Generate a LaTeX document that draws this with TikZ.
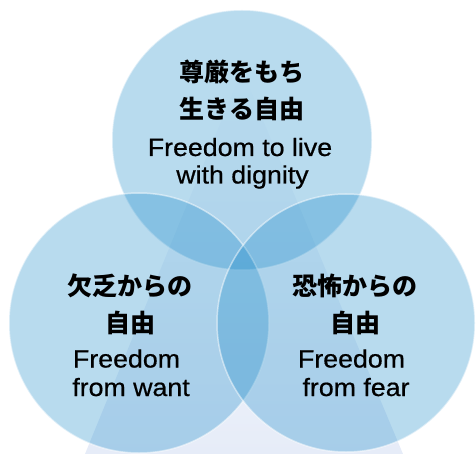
\documentclass[tikz,border=0pt]{standalone}
\usepackage{fontspec}
\usepackage{tikz}
\newfontfamily\jpfont{Noto Sans CJK JP}
\newfontfamily\enfont{Liberation Sans}[FakeStretch=1.07,FakeBold=0.6]
\definecolor{vennblue}{RGB}{20,135,200}
\definecolor{venntri}{RGB}{230,236,248}
\tikzset{
  freedom circle/.style={circle, inner sep=0pt, minimum size=#1,
    fill=vennblue, fill opacity=0.3, draw=white, draw opacity=0.5, line width=1.5pt},
  jp line/.style={anchor=base, inner sep=0pt, font=\jpfont\bfseries\fontsize{25}{25}\selectfont},
  en line/.style={anchor=base, inner sep=0pt, font=\enfont\fontsize{25}{25}\selectfont},
}

\begin{document}
\begin{tikzpicture}[x=1pt,y=-1pt]
            \useasboundingbox (0,0) rectangle (476,454);

            % Background
            \shade[top color=white, bottom color=venntri] (242,70) -- (403,454) -- (85,454) -- cycle;

            % Circles
            \node[freedom circle=260pt] (dignity) at (242,140) {};
            \node[freedom circle=260pt] (want)    at (139,323) {};
            \node[freedom circle=258pt] (fear)    at (346,323) {};

            % Top
            \node[jp line] (dig1) at (242,82)    {尊厳をもち};
            \node[jp line] (dig2) at (242,119)   {生きる自由};
            \node[en line] (dig3) at (240,156)   {Freedom to live};
            \node[en line] (dig4) at (242.5,183.5) {with dignity};

            % Left
            \node[jp line] (want1) at (130,295)   {欠乏からの};
            \node[jp line] (want2) at (130,332)   {自由};
            \node[en line] (want3) at (126.5,367.5) {Freedom};
            \node[en line] (want4) at (131,396)   {from want};

            % Right
            \node[jp line] (fear1) at (355,295)   {恐怖からの};
            \node[jp line] (fear2) at (355,332)   {自由};
            \node[en line] (fear3) at (351.5,367.5) {Freedom};
            \node[en line] (fear4) at (356,396)   {from fear};
\end{tikzpicture}
\end{document}
